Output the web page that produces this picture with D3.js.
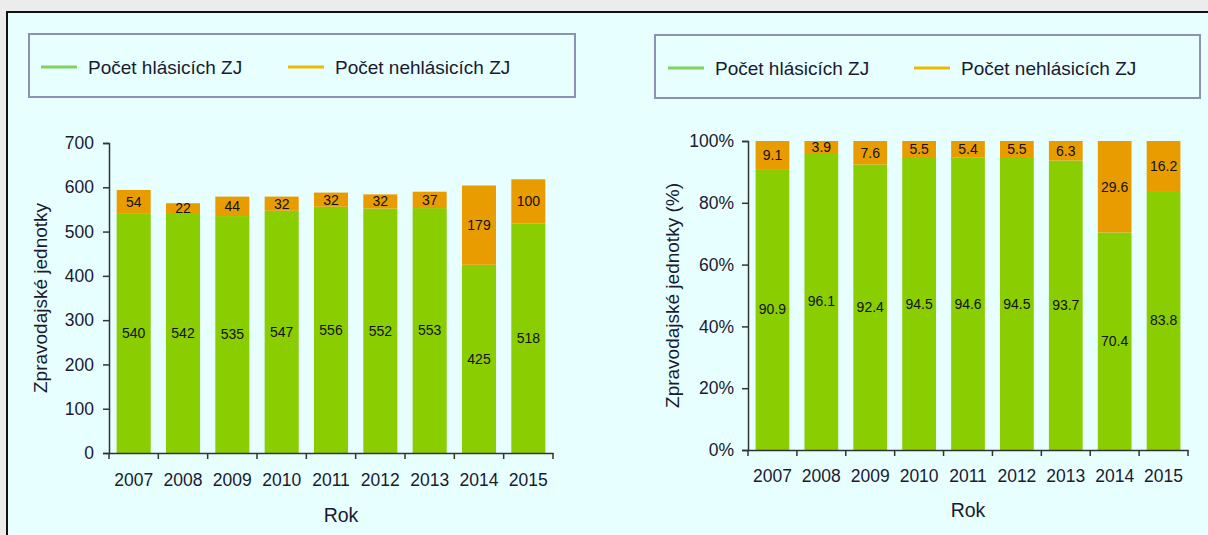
<!DOCTYPE html>
<html>
<head>
<meta charset="utf-8">
<script src="https://cdn.jsdelivr.net/npm/d3@7"></script>
<style>
  html, body { margin: 0; padding: 0; background: #ececec; }
  svg { display: block; font-family: "Liberation Sans", Arial, sans-serif; }
</style>
</head>
<body>
<svg id="chart" width="1208" height="535"></svg>
<script>
// -------- DATA --------
const years = ["2007", "2008", "2009", "2010", "2011", "2012", "2013", "2014", "2015"];
const reporting = [540, 542, 535, 547, 556, 552, 553, 425, 518];
const notReporting = [54, 22, 44, 32, 32, 32, 37, 179, 100];
const reportingPct = [90.9, 96.1, 92.4, 94.5, 94.6, 94.5, 93.7, 70.4, 83.8];
const notReportingPct = [9.1, 3.9, 7.6, 5.5, 5.4, 5.5, 6.3, 29.6, 16.2];
const countTicks = [0, 100, 200, 300, 400, 500, 600, 700];
const pctTicks = [0, 20, 40, 60, 80, 100];
const seriesNames = ["Počet hlásicích ZJ", "Počet nehlásicích ZJ"];

const GREEN = "#8acd00";
const ORANGE = "#e99c00";
const LEG_GREEN = "#7fd35c";
const LEG_ORANGE = "#ecbb00";
const TEXT = "#1a1a30";

const svg = d3.select("#chart");

// panel background with black border (top + left)
svg.append("rect")
  .attr("x", 7).attr("y", 12)
  .attr("width", 1240).attr("height", 560)
  .attr("fill", "#e8ffff")
  .attr("stroke", "#111")
  .attr("stroke-width", 2);

// -------- LEGEND --------
function drawLegend(box, items) {
  const g = svg.append("g");
  g.append("rect")
    .attr("x", box.x).attr("y", box.y)
    .attr("width", box.w).attr("height", box.h)
    .attr("fill", "none")
    .attr("stroke", "#8a93b3")
    .attr("stroke-width", 2);

  items.forEach(it => {
    g.append("line")
      .attr("x1", it.lx).attr("x2", it.lx + 36)
      .attr("y1", box.y + 33).attr("y2", box.y + 33)
      .attr("stroke", it.color)
      .attr("stroke-width", 3);
    g.append("text")
      .attr("x", it.lx + 47)
      .attr("y", box.y + 40)
      .attr("font-size", 19)
      .attr("fill", TEXT)
      .text(it.name);
  });
}

drawLegend({ x: 29, y: 34, w: 546, h: 63 }, [
  { lx: 41, color: LEG_GREEN, name: seriesNames[0] },
  { lx: 288, color: LEG_ORANGE, name: seriesNames[1] }
]);
drawLegend({ x: 655, y: 35, w: 545, h: 63 }, [
  { lx: 668, color: LEG_GREEN, name: seriesNames[0] },
  { lx: 914, color: LEG_ORANGE, name: seriesNames[1] }
]);

// -------- STACKED BAR CHART --------
function drawChart(cfg) {
  const x = d3.scaleBand()
    .domain(years)
    .range([cfg.x0, cfg.x1])
    .paddingInner(0.31)
    .paddingOuter(0.155);

  const y = d3.scaleLinear()
    .domain([0, cfg.max])
    .range([cfg.y0, cfg.y1]);

  const g = svg.append("g");

  const rows = years.map((yr, i) => ({ yr, a: cfg.a[i], b: cfg.b[i] }));

  // green (bottom) segments
  g.selectAll(".seg-a")
    .data(rows)
    .enter()
    .append("rect")
    .attr("x", d => x(d.yr))
    .attr("width", x.bandwidth())
    .attr("y", d => y(d.a))
    .attr("height", d => y(0) - y(d.a))
    .attr("fill", GREEN);

  // orange (top) segments
  g.selectAll(".seg-b")
    .data(rows)
    .enter()
    .append("rect")
    .attr("x", d => x(d.yr))
    .attr("width", x.bandwidth())
    .attr("y", d => y(d.a + d.b))
    .attr("height", d => y(d.a) - y(d.a + d.b))
    .attr("fill", ORANGE);

  // value labels
  g.selectAll(".lab-a")
    .data(rows)
    .enter()
    .append("text")
    .attr("x", d => x(d.yr) + x.bandwidth() / 2)
    .attr("y", d => (y(0) + y(d.a)) / 2)
    .attr("dy", "0.35em")
    .attr("text-anchor", "middle")
    .attr("font-size", 14)
    .attr("fill", "#111")
    .text(d => d.a);

  g.selectAll(".lab-b")
    .data(rows)
    .enter()
    .append("text")
    .attr("x", d => x(d.yr) + x.bandwidth() / 2)
    .attr("y", d => (y(d.a) + y(d.a + d.b)) / 2)
    .attr("dy", "0.35em")
    .attr("text-anchor", "middle")
    .attr("font-size", 14)
    .attr("fill", "#111")
    .text(d => d.b);

  // y axis
  const yAxis = d3.axisLeft(y)
    .tickValues(cfg.ticks)
    .tickSize(6)
    .tickPadding(cfg.tickPad)
    .tickFormat(cfg.fmt);

  const yg = g.append("g")
    .attr("transform", `translate(${cfg.x0},0)`)
    .call(yAxis);
  yg.select(".domain").attr("stroke", "#333").attr("stroke-width", 1.5);
  yg.selectAll(".tick line").attr("stroke", "#333").attr("stroke-width", 1.5);
  yg.selectAll(".tick text")
    .attr("font-size", 17.5)
    .attr("font-family", "Liberation Sans, Arial, sans-serif")
    .attr("fill", TEXT);

  // x axis: labels under bars, tick marks between categories
  const xAxis = d3.axisBottom(x).tickSize(0).tickPadding(cfg.xPad);
  const xg = g.append("g")
    .attr("transform", `translate(0,${cfg.y0})`)
    .call(xAxis);
  xg.select(".domain").attr("stroke", "#333").attr("stroke-width", 1.5);
  xg.selectAll(".tick text")
    .attr("font-size", 17.5)
    .attr("font-family", "Liberation Sans, Arial, sans-serif")
    .attr("fill", TEXT);

  const step = x.step();
  const bounds = years.map(yr => x(yr) - (step - x.bandwidth()) / 2).concat([cfg.x1]);
  g.selectAll(".xtick")
    .data(bounds)
    .enter()
    .append("line")
    .attr("x1", d => d).attr("x2", d => d)
    .attr("y1", cfg.y0).attr("y2", cfg.y0 + 6)
    .attr("stroke", "#333")
    .attr("stroke-width", 1.5);

  // axis titles
  g.append("text")
    .attr("x", cfg.rokX)
    .attr("y", cfg.rokY)
    .attr("text-anchor", "middle")
    .attr("font-size", 19.5)
    .attr("fill", TEXT)
    .text("Rok");

  g.append("text")
    .attr("transform", `translate(${cfg.titleX},${(cfg.y0 + cfg.y1) / 2}) rotate(-90)`)
    .attr("text-anchor", "middle")
    .attr("dy", "0.35em")
    .attr("font-size", 19)
    .attr("fill", TEXT)
    .text(cfg.title);
}

drawChart({
  x0: 109, x1: 553, y0: 453, y1: 143,
  max: 700, ticks: countTicks, fmt: d3.format("d"),
  a: reporting, b: notReporting,
  tickPad: 9, xPad: 21,
  rokX: 341, rokY: 522,
  titleX: 40, title: "Zpravodajské jednotky"
});

drawChart({
  x0: 748, x1: 1188, y0: 450, y1: 141,
  max: 100, ticks: pctTicks, fmt: d => d + "%",
  a: reportingPct, b: notReportingPct,
  tickPad: 8, xPad: 20,
  rokX: 968, rokY: 517,
  titleX: 672, title: "Zpravodajské jednotky (%)"
});
</script>
</body>
</html>
